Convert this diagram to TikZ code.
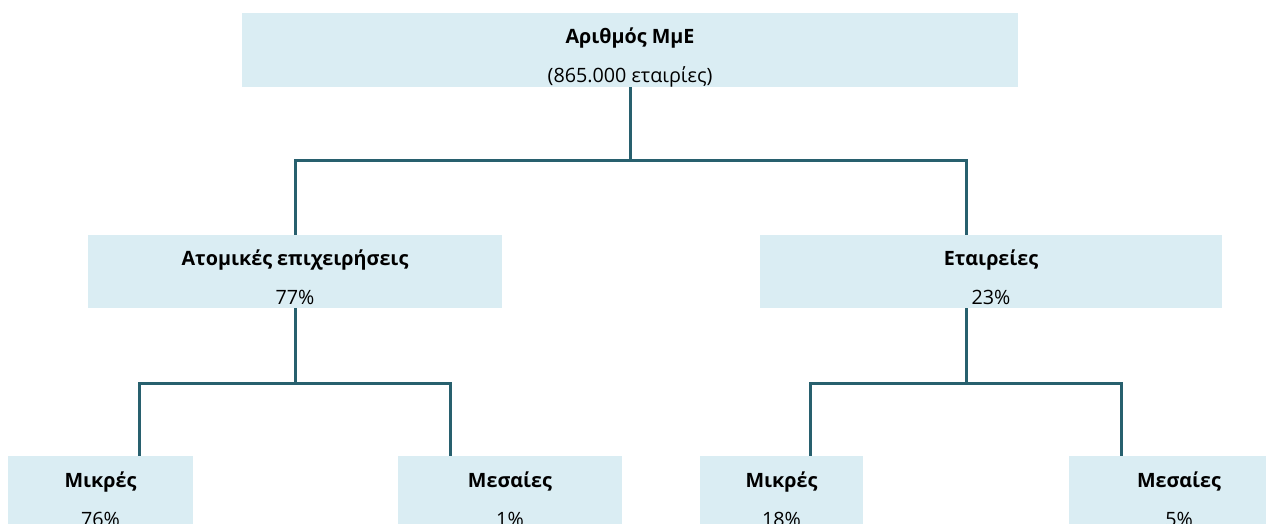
\documentclass[tikz,border=0pt]{standalone}
\usepackage{fontspec}
\setmainfont{Open Sans}
\definecolor{boxfill}{HTML}{DAEDF3}
\definecolor{connclr}{HTML}{28606E}
\begin{document}
\begin{tikzpicture}[x=0.75pt,y=-0.75pt,
  box/.style={fill=boxfill, draw=none, inner sep=0pt, minimum height=55.5pt},
  lbl/.style={align=center, font=\fontsize{14.8}{29.25}\selectfont, text=black, inner sep=0pt},
  connector/.style={draw=connclr, line width=2.25pt}]
\useasboundingbox (0,0) rectangle (1266,524);
\clip (0,0) rectangle (1266,524);
% boxes
\node[box, minimum width=582pt] (top) at (630,50) {};
\node[box, minimum width=310.5pt, minimum height=54.75pt] (ml) at (295,271.5) {};
\node[box, minimum width=346.5pt, minimum height=54.75pt] (mr) at (991,271.5) {};
\node[box, minimum width=138.75pt] (bl1) at (100.5,493) {};
\node[box, minimum width=168pt] (bl2) at (510,493) {};
\node[box, minimum width=122.25pt] (br1) at (781.5,493) {};
\node[box, minimum width=165pt] (br2) at (1179,493) {};
% labels
\node[lbl] (toptxt) at ([yshift=-5.5pt]top.center) {\textbf{Αριθμός ΜμΕ}\\(865.000 εταιρίες)};
\node[lbl] (mltxt) at ([yshift=-4.5pt]ml.center) {\textbf{Ατομικές επιχειρήσεις}\\77\%};
\node[lbl] (mrtxt) at ([yshift=-4.5pt]mr.center) {\textbf{Εταιρείες}\\23\%};
\node[lbl] (bl1txt) at ([yshift=-4.5pt]bl1.center) {\textbf{Μικρές}\\76\%};
\node[lbl] (bl2txt) at ([yshift=-4.5pt]bl2.center) {\textbf{Μεσαίες}\\1\%};
\node[lbl] (br1txt) at ([yshift=-4.5pt]br1.center) {\textbf{Μικρές}\\18\%};
\node[lbl] (br2txt) at ([yshift=-4.5pt]br2.center) {\textbf{Μεσαίες}\\5\%};
% connectors
\coordinate (j0) at (630,161);
\coordinate (j1) at (295,383);
\coordinate (j2) at (966,383);
\draw[connector] (top.south) -- (j0);
\draw[connector] (ml.north) |- (j0) -| ([xshift=-18.75pt]mr.north);
\draw[connector] (ml.south) -- (j1);
\draw[connector] ([xshift=29.6pt]bl1.north) |- (j1) -| ([xshift=-45pt]bl2.north);
\draw[connector] ([xshift=-18.75pt]mr.south) -- (j2);
\draw[connector] ([xshift=22.1pt]br1.north) |- (j2) -| ([xshift=-43.5pt]br2.north);
\end{tikzpicture}
\end{document}
